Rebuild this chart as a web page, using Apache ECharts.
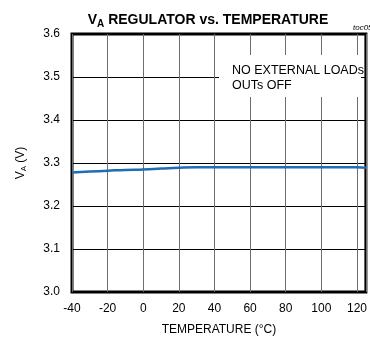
<!DOCTYPE html>
<html><head><meta charset="utf-8">
<script src="https://cdn.jsdelivr.net/npm/echarts@6/dist/echarts.min.js"></script>
<style>html,body{margin:0;padding:0;background:#fff}#c{width:370px;height:345px}</style>
</head><body><div id="c"></div>
<script>
const temperature = [-40, -30, -20, -10, 0, 10, 20, 30, 40, 60, 80, 100, 120, 125];
const vaVolts = [3.278, 3.280, 3.282, 3.284, 3.285, 3.287, 3.289, 3.290, 3.290, 3.290, 3.290, 3.290, 3.290, 3.289];
const xTicks = [-40, -20, 0, 20, 40, 60, 80, 100, 120];
const yTicks = [3.0, 3.1, 3.2, 3.3, 3.4, 3.5, 3.6];

const chart = echarts.init(document.getElementById('c'));
const font = 'Liberation Sans, Arial, sans-serif';
chart.setOption({
  animation: false,
  title: {
    text: '{m|V}{s|A}{m| REGULATOR vs. TEMPERATURE}',
    left: 203, top: 6, textAlign: 'center',
    textStyle: {
      rich: {
        m: {fontFamily: font, fontWeight: 'bold', fontSize: 14, color: '#000'},
        s: {fontFamily: font, fontWeight: 'bold', fontSize: 10, color: '#000', padding: [8, 0, 0, 0]}
      }
    }
  },
  grid: {left: 72, top: 34, width: 299, height: 258, show: true, borderColor: '#000', borderWidth: 3, backgroundColor: 'transparent'},
  xAxis: {
    type: 'value', min: -40, max: 125, interval: 20,
    axisLine: {show: false}, axisTick: {show: false},
    axisLabel: {fontFamily: font, fontSize: 12, color: '#000', margin: 11, showMaxLabel: false,
      formatter: v => xTicks.includes(v) ? String(v) : ''},
    splitLine: {show: true, lineStyle: {color: '#6e6e6e', width: 1}},
    name: 'TEMPERATURE (°C)', nameLocation: 'middle', nameGap: 32,
    nameTextStyle: {fontFamily: font, fontSize: 12, color: '#000'}
  },
  yAxis: {
    type: 'value', min: 3.0, max: 3.6, interval: 0.1,
    axisLine: {show: false}, axisTick: {show: false},
    axisLabel: {fontFamily: font, fontSize: 12, color: '#000', margin: 12,
      formatter: v => v.toFixed(1)},
    splitLine: {show: true, lineStyle: {color: '#000', width: 1}},
    name: '{m|V}{s|A}{m| (V)}', nameLocation: 'middle', nameGap: 44, nameRotate: 90,
    nameTextStyle: {rich: {
      m: {fontFamily: font, fontSize: 12, color: '#000'},
      s: {fontFamily: font, fontSize: 8, color: '#000', padding: [6, 0, 0, 0]}
    }}
  },
  graphic: [
    {type: 'rect', shape: {x: 219, y: 55, width: 142, height: 42}, style: {fill: '#fff'}, z: 10},
    {type: 'text', left: 232, top: 63, z: 11, style: {text: 'NO EXTERNAL LOADs\nOUTs OFF', font: '12.5px ' + font, fill: '#000', lineHeight: 15}},
    {type: 'text', left: 353, top: 24, z: 11, style: {text: 'toc05', font: 'italic 8px ' + font, fill: '#000'}}
  ],
  series: [{
    type: 'line', data: temperature.map((t, i) => [t, vaVolts[i]]),
    smooth: true, symbol: 'none', lineStyle: {color: '#1f6db4', width: 2.5}, z: 5
  }]
});
</script></body></html>
